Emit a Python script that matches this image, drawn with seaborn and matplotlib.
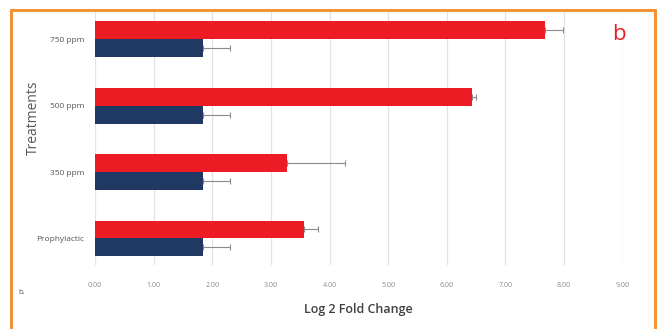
import matplotlib
matplotlib.use("Agg")
import matplotlib.pyplot as plt
import seaborn as sns
import pandas as pd
import numpy as np
from matplotlib.lines import Line2D

treatments = ["750 ppm", "500 ppm", "350 ppm", "Prophylactic"]
series = ["Treated", "Control"]
treated_values = [7.68, 6.43, 3.28, 3.57]
treated_err = [0.31, 0.07, 0.98, 0.24]
control_values = [1.85, 1.85, 1.85, 1.85]
control_err = [0.46, 0.46, 0.46, 0.46]
x_ticks = [0, 1, 2, 3, 4, 5, 6, 7, 8, 9]
x_tick_labels = ["0.00", "1.00", "2.00", "3.00", "4.00", "5.00", "6.00", "7.00", "8.00", "9.00"]
colors = {"Treated": "#ED1C24", "Control": "#1F3864"}

df = pd.DataFrame({
    "Treatment": treatments * 2,
    "Series": [series[0]] * 4 + [series[1]] * 4,
    "Value": treated_values + control_values,
    "Err": treated_err + control_err,
})

sns.set_style("white")
plt.rcParams["font.family"] = ["Open Sans", "DejaVu Sans"]
fig = plt.figure(figsize=(6.59, 3.29), dpi=100)
W, H = 659, 329
ax = fig.add_axes([95 / W, 1 - 265 / H, (622.7 - 95) / W, (265 - 12) / H])

sns.barplot(data=df, y="Treatment", x="Value", hue="Series", order=treatments,
            hue_order=series, palette=colors, orient="h", width=0.54,
            errorbar=None, legend=False, ax=ax, edgecolor="none", saturation=1)

# error bars positioned from the drawn bar patches
for patch in ax.patches:
    yc = patch.get_y() + patch.get_height() / 2
    cat_idx = int(round(yc))
    ser = "Treated" if yc < cat_idx else "Control"
    row = df[(df["Treatment"] == treatments[cat_idx]) & (df["Series"] == ser)].iloc[0]
    ax.errorbar(row["Value"], yc, xerr=[[0], [row["Err"]]], fmt="none",
                ecolor="#8a8a8a", elinewidth=0.8, capsize=2.5, capthick=0.8)

ax.set_xlim(0, 9)
ax.set_ylim(3.40, -0.41)
ax.set_xticks(x_ticks)
ax.set_xticklabels(x_tick_labels, fontsize=5, color="#8a8a8a")
ax.tick_params(axis="y", labelsize=6, colors="#555555", length=0, pad=8)
ax.tick_params(axis="x", length=0, pad=12)
ax.grid(axis="x", color="#e2e2e2", linewidth=0.9)
ax.set_axisbelow(True)
for s in ax.spines.values():
    s.set_visible(False)
ax.set_ylabel("Treatments", fontsize=10, color="#595959")
ax.yaxis.set_label_coords((41 - 95) / (622.7 - 95), (265 - 118) / (265 - 12))
ax.set_xlabel("Log 2 Fold Change", fontsize=9, color="#404040", fontweight="semibold", labelpad=10)

fig.text(18 / W, 1 - 293 / H, "b.", fontsize=5.5, color="#555555", va="center")
fig.text(619 / W, 1 - 35 / H, "b", fontsize=16, color="#ED1C24", ha="center", va="center")

# orange frame
oc = "#F39237"
fig.add_artist(Line2D([11 / W, 11 / W], [0, 1 - 10 / H], color=oc, lw=2.2, transform=fig.transFigure))
fig.add_artist(Line2D([11 / W, 655 / W], [1 - 10 / H, 1 - 10 / H], color=oc, lw=2.2, transform=fig.transFigure))
fig.add_artist(Line2D([655 / W, 655 / W], [0, 1 - 10 / H], color=oc, lw=2.2, transform=fig.transFigure))

fig.savefig("out.png", dpi=100)
